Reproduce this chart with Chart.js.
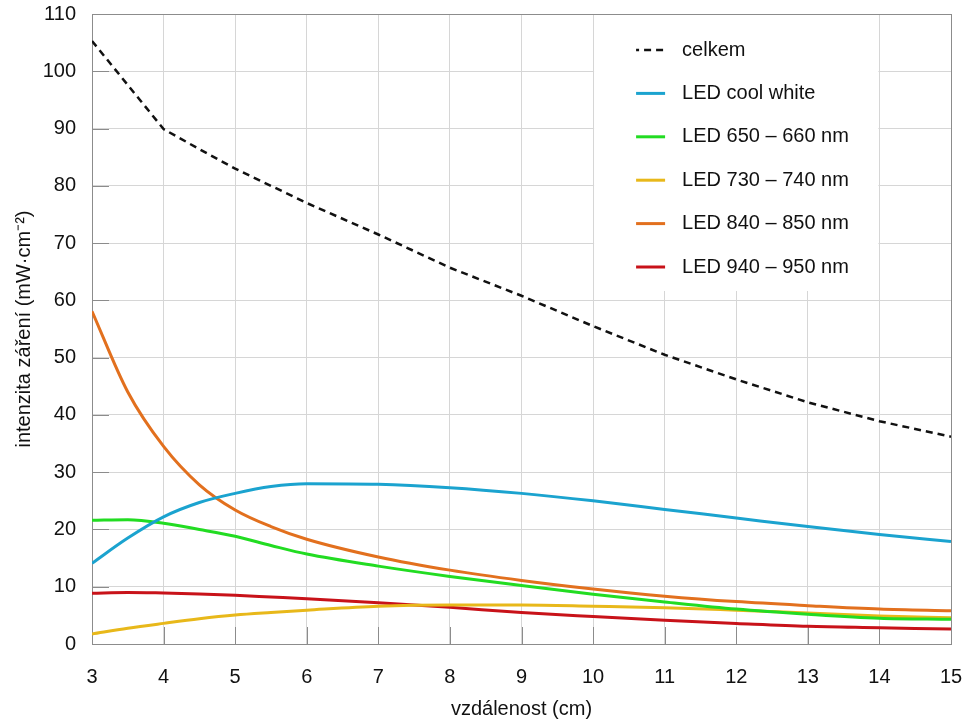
<!DOCTYPE html>
<html lang="cs">
<head>
<meta charset="utf-8">
<title>Intenzita záření LED</title>
<script src="https://cdn.jsdelivr.net/npm/chart.js@4/dist/chart.umd.min.js"></script>
<style>
  html, body { margin: 0; padding: 0; background: #ffffff; }
  #wrap { width: 963px; height: 722px; }
</style>
</head>
<body>
<div id="wrap"><canvas id="chart" width="963" height="722"></canvas></div>
<script>
// Distance from the light source (cm)
const distances = [3, 3.5, 4, 4.5, 5, 5.5, 6, 7, 8, 9, 10, 11, 12, 13, 14, 15];

// Irradiance (mW·cm⁻²) for each source
const celkem    = [105.3, 97.6, 89.9, 86.4, 83.0, 80.0, 77.0, 71.5, 65.7, 60.8, 55.5, 50.5, 46.2, 42.2, 38.9, 36.2];
const coolWhite = [14.1, 18.5, 22.2, 24.7, 26.3, 27.5, 28.0, 27.9, 27.3, 26.3, 25.0, 23.5, 22.0, 20.5, 19.1, 17.9];
const led650    = [21.6, 21.7, 21.1, 20.0, 18.8, 17.2, 15.7, 13.6, 11.8, 10.2, 8.7, 7.35, 6.1, 5.2, 4.5, 4.3];
const led730    = [1.75, 2.75, 3.6, 4.4, 5.05, 5.5, 5.9, 6.6, 6.8, 6.8, 6.6, 6.35, 5.9, 5.4, 4.9, 4.6];
const led840    = [58.1, 44.0, 34.5, 27.8, 23.4, 20.5, 18.3, 15.2, 12.9, 11.1, 9.6, 8.35, 7.4, 6.7, 6.1, 5.8];
const led940    = [8.86, 9.0, 8.9, 8.75, 8.5, 8.2, 7.9, 7.2, 6.4, 5.5, 4.8, 4.15, 3.6, 3.1, 2.85, 2.6];

const seriesNames = ['celkem', 'LED cool white', 'LED 650 – 660 nm', 'LED 730 – 740 nm', 'LED 840 – 850 nm', 'LED 940 – 950 nm'];

const FONT = "'Liberation Sans', Arial, sans-serif";
const GRID = '#d6d6d6';
const AXIS = '#8c8c8c';

function points(values) {
  return distances.map((d, i) => ({ x: d, y: values[i] }));
}

function series(label, values, color, extra) {
  return Object.assign({
    label: label,
    data: points(values),
    borderColor: color,
    backgroundColor: color,
    borderWidth: 3,
    pointRadius: 0,
    fill: false,
    cubicInterpolationMode: 'monotone'
  }, extra || {});
}

// Short tick marks on the inner side of the axes, the plot frame and the legend panel
const frameAndTicks = {
  id: 'frameAndTicks',
  beforeDatasetsDraw(chart) {
    const { ctx, chartArea: a, scales: { x, y } } = chart;
    ctx.save();
    // white panel behind the legend
    const lx0 = x.getPixelForValue(10), lx1 = x.getPixelForValue(14);
    ctx.fillStyle = '#ffffff';
    ctx.fillRect(lx0 + 1, a.top + 1, lx1 - lx0 - 2, 276);
    ctx.strokeStyle = AXIS;
    ctx.lineWidth = 1;
    ctx.beginPath();
    y.ticks.forEach(t => {
      if (t.value <= 0 || t.value >= 110) return;
      const py = Math.round(y.getPixelForValue(t.value)) + 0.5;
      ctx.moveTo(a.left, py); ctx.lineTo(a.left + 17, py);
    });
    x.ticks.forEach(t => {
      if (t.value <= 3 || t.value >= 15) return;
      const px = Math.round(x.getPixelForValue(t.value)) + 0.5;
      ctx.moveTo(px, a.bottom); ctx.lineTo(px, a.bottom - 17);
    });
    ctx.stroke();
    ctx.strokeRect(Math.round(a.left) + 0.5, Math.round(a.top) + 0.5,
                   Math.round(a.right - a.left), Math.round(a.bottom - a.top));
    ctx.restore();
  },
  afterDatasetsDraw(chart) {
    const { ctx, chartArea: a } = chart;
    const x = chart.scales.x;
    const left = x.getPixelForValue(10);
    ctx.save();
    ctx.font = '20px ' + FONT;
    ctx.textBaseline = 'middle';
    ctx.textAlign = 'left';
    chart.data.datasets.forEach((ds, i) => {
      const cy = a.top + 36 + i * 43.4;
      ctx.beginPath();
      ctx.strokeStyle = ds.borderColor;
      ctx.lineWidth = ds.borderWidth;
      ctx.setLineDash(ds.borderDash || []);
      ctx.lineDashOffset = ds.borderDash ? 4 : 0;
      ctx.moveTo(left + 43, cy);
      ctx.lineTo(left + 72, cy);
      ctx.stroke();
      ctx.setLineDash([]);
      ctx.fillStyle = '#111111';
      ctx.fillText(ds.label, left + 89, cy);
    });
    ctx.restore();
  }
};

new Chart(document.getElementById('chart'), {
  type: 'line',
  data: {
    datasets: [
      series(seriesNames[0], celkem, '#111111', { borderWidth: 2.5, borderDash: [7, 5], tension: 0, cubicInterpolationMode: 'default' }),
      series(seriesNames[1], coolWhite, '#1ba3cf'),
      series(seriesNames[2], led650, '#22dc22'),
      series(seriesNames[3], led730, '#e8b81a'),
      series(seriesNames[4], led840, '#e2701e'),
      series(seriesNames[5], led940, '#c81219')
    ]
  },
  options: {
    responsive: false,
    animation: false,
    devicePixelRatio: 1,
    layout: { padding: 0 },
    plugins: {
      legend: { display: false },
      tooltip: { enabled: false }
    },
    scales: {
      x: {
        type: 'linear',
        min: 3,
        max: 15,
        ticks: { stepSize: 1, color: '#111111', padding: 21, font: { family: FONT, size: 20 } },
        grid: { color: GRID, lineWidth: 1, drawTicks: false },
        border: { color: AXIS, width: 1 },
        title: {
          display: true,
          text: 'vzdálenost (cm)',
          color: '#111111',
          font: { family: FONT, size: 20 },
          padding: { top: 0, bottom: 1 }
        },
        afterFit(scale) {
          scale.height = 78;
          scale.paddingLeft = 0;
          scale.paddingRight = 12;
        }
      },
      y: {
        min: 0,
        max: 110,
        ticks: { stepSize: 10, color: '#111111', padding: 16, font: { family: FONT, size: 20 } },
        grid: { color: GRID, lineWidth: 1, drawTicks: false },
        border: { color: AXIS, width: 1 },
        title: {
          display: true,
          text: 'intenzita záření (mW·cm⁻²)',
          color: '#111111',
          font: { family: FONT, size: 20 },
          padding: { top: 12, bottom: 0 }
        },
        afterFit(scale) {
          scale.width = 92;
          scale.paddingTop = 14;
          scale.paddingBottom = 0;
        }
      }
    }
  },
  plugins: [frameAndTicks]
});
</script>
</body>
</html>
